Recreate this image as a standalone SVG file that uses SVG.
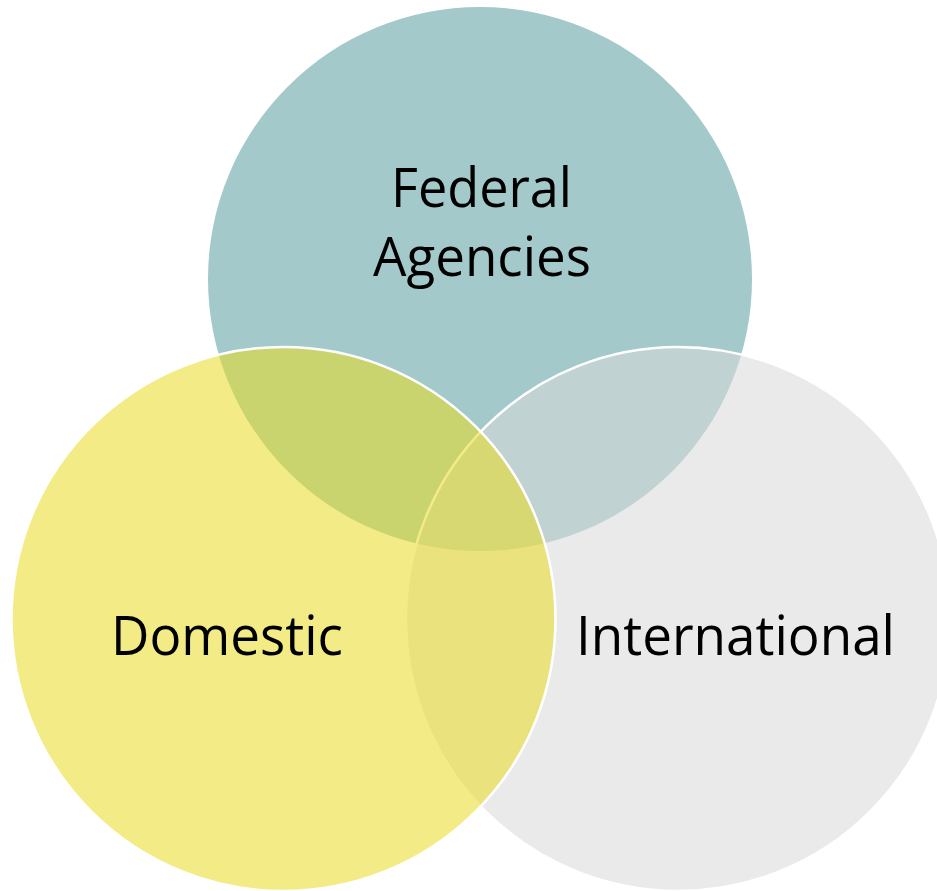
<svg xmlns="http://www.w3.org/2000/svg" width="937" height="891" viewBox="0 0 937 891">
  <style>
    .lbl { font-family: "Open Sans", "Noto Sans", "Liberation Sans", sans-serif; font-size: 54px; fill: #000000; text-anchor: middle; }
    .ring { stroke: #FFFFFF; stroke-width: 2.5; }
  </style>
  <rect x="0" y="0" width="937" height="891" fill="#FFFFFF"/>
  <g id="federal-agencies">
    <circle cx="480" cy="279" r="272" fill="#A3C9CA"/>
  </g>
  <g id="international">
    <circle class="ring" cx="678" cy="619" r="272" fill="#D9D9D9" fill-opacity="0.55"/>
  </g>
  <g id="domestic">
    <circle class="ring" cx="283.5" cy="619" r="272" fill="#EADC22" fill-opacity="0.55"/>
  </g>
  <g id="labels">
    <text class="lbl" x="481.5" y="207" textLength="181" lengthAdjust="spacingAndGlyphs">Federal</text>
    <text class="lbl" x="482" y="276" textLength="218" lengthAdjust="spacingAndGlyphs">Agencies</text>
    <text class="lbl" x="227" y="655" textLength="232" lengthAdjust="spacingAndGlyphs">Domestic</text>
    <text class="lbl" x="735.5" y="655" textLength="319" lengthAdjust="spacingAndGlyphs">International</text>
  </g>
</svg>
